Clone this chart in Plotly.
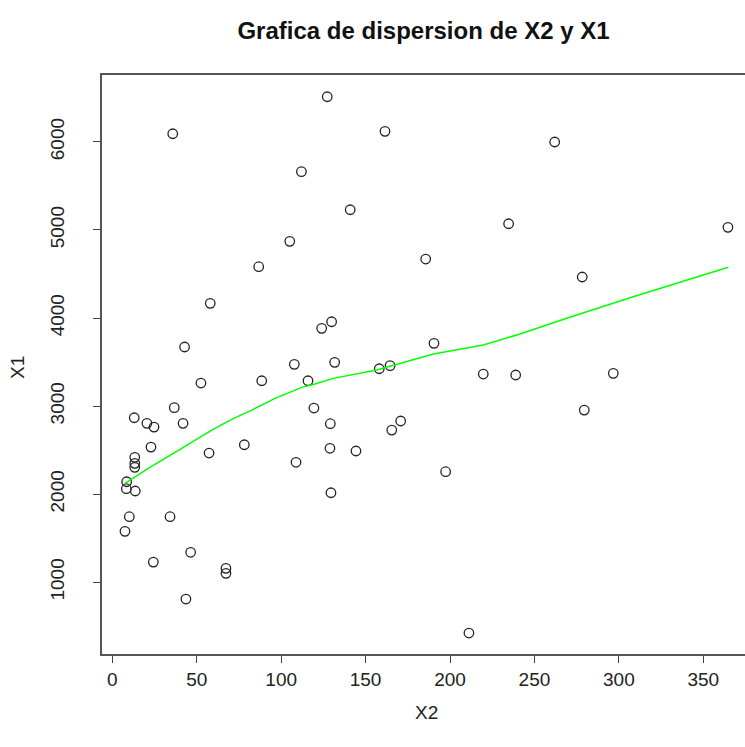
import plotly.graph_objects as go

# ---- data ----
x2_values = [35.8, 127.3, 161.5, 262.0, 112.0, 140.9, 234.7, 364.6, 105.1, 86.7,
             185.6, 278.3, 58.0, 129.9, 124.0, 42.8, 190.5, 107.8, 131.7, 158.1,
             164.5, 219.7, 238.9, 296.7, 88.5, 115.9, 52.5, 36.7, 119.4, 13.0,
             20.5, 24.7, 41.9, 129.1, 170.8, 165.5, 279.5, 22.9, 78.2, 128.9,
             144.3, 57.3, 13.3, 13.3, 13.3, 108.8, 8.5, 8.3, 13.6, 197.4,
             129.5, 10.1, 34.2, 7.5, 46.4, 24.3, 67.3, 67.3, 43.6, 211.2]
x1_values = [6093, 6513, 6120, 5999, 5662, 5230, 5071, 5030, 4871, 4583,
             4670, 4466, 4167, 3958, 3883, 3671, 3713, 3474, 3497, 3424,
             3459, 3364, 3353, 3372, 3288, 3288, 3262, 2982, 2978, 2868,
             2804, 2762, 2804, 2800, 2831, 2728, 2955, 2535, 2561, 2521,
             2490, 2467, 2418, 2350, 2305, 2362, 2141, 2062, 2036, 2255,
             2016, 1744, 1744, 1578, 1340, 1229, 1158, 1101, 809, 423]

# smoothed (lowess) curve
smooth_x = [7.5, 21.3, 41.1, 58.9, 70.7, 82.6, 96.4, 112.2, 120.0, 130.9,
            156.6, 170.4, 190.1, 219.7, 241.4, 269.1, 308.5, 364.8]
smooth_y = [2123, 2293, 2520, 2728, 2850, 2955, 3088, 3213, 3251, 3315,
            3410, 3486, 3591, 3693, 3818, 3997, 4242, 4576]

x_ticks = [0, 50, 100, 150, 200, 250, 300, 350]
y_ticks = [1000, 2000, 3000, 4000, 5000, 6000]

title_text = "Grafica de dispersion de X2 y X1"
x_label = "X2"
y_label = "X1"

FONT = "Liberation Sans, Arial, Helvetica, sans-serif"

fig = go.Figure()
fig.add_trace(go.Scatter(
    x=x2_values, y=x1_values, mode="markers",
    marker=dict(symbol="circle-open", size=9.5, color="#222222",
                line=dict(width=1.3, color="#222222")),
    showlegend=False, hoverinfo="x+y"))
fig.add_trace(go.Scatter(
    x=smooth_x, y=smooth_y, mode="lines",
    line=dict(color="#00ff00", width=1.5),
    showlegend=False))

axis_common = dict(
    showgrid=False, zeroline=False, showline=True,
    linecolor="#555555", linewidth=1.5,
    ticks="outside", ticklen=7, tickwidth=1.3, tickcolor="#444444",
    tickfont=dict(family=FONT, size=19, color="#222222"),
)

fig.update_layout(
    width=745, height=747,
    margin=dict(l=102, r=0, t=75, b=93),
    paper_bgcolor="white", plot_bgcolor="white",
    title=dict(text=title_text, x=0.5, xref="paper", xanchor="center",
               y=1 - 31 / 747, yref="container", yanchor="middle",
               font=dict(family=FONT, size=24, color="#111111", weight="bold")),
    xaxis=dict(range=[-6.1, 374.7], tickvals=x_ticks, mirror=True,
               **axis_common),
    yaxis=dict(range=[185, 6760], tickvals=y_ticks, tickangle=-90,
               ticklabelstandoff=22, **axis_common),
    annotations=[
        dict(text=x_label, xref="paper", yref="paper", x=0.505, y=-0.1002,
             xanchor="center", yanchor="middle", showarrow=False,
             font=dict(family=FONT, size=19, color="#222222")),
        dict(text=y_label, xref="paper", yref="paper", x=-0.1306, y=0.494,
             xanchor="center", yanchor="middle", showarrow=False, textangle=-90,
             font=dict(family=FONT, size=19, color="#222222")),
    ],
)

fig.write_html("out.html")
